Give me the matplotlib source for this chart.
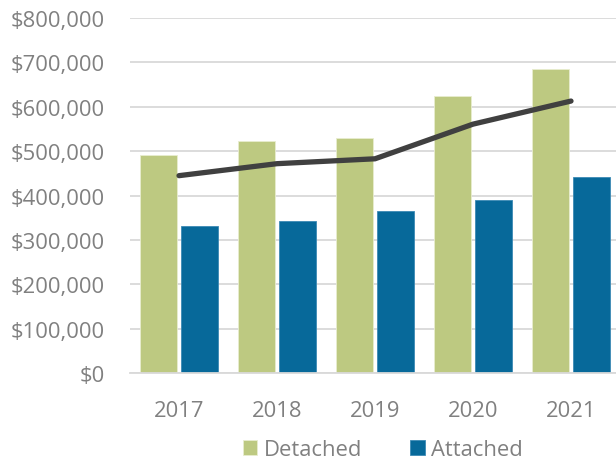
import matplotlib
matplotlib.use("Agg")
import matplotlib.pyplot as plt
import numpy as np
from matplotlib.ticker import FuncFormatter

years = ["2017", "2018", "2019", "2020", "2021"]
detached = [492000, 523000, 529000, 624000, 685000]
attached = [331000, 343000, 365000, 390000, 441000]
overall = [445000, 472000, 483000, 561000, 613000]

plt.rcParams['font.family'] = ['Open Sans', 'DejaVu Sans']
W, H = 616, 460
fig = plt.figure(figsize=(W/100, H/100), dpi=100)
left, bottom = 130/W, 1 - 374.3/H
ax = fig.add_axes([left, bottom, 490/W, (374.3-19)/H])

x = np.arange(len(years))
bw = 0.378
off = 0.21
green = "#BDC981"
blue = "#07699A"
b1 = ax.bar(x - off, detached, bw, color=green, edgecolor="#E8EDCF", linewidth=0.6, label="Detached", zorder=2)
b2 = ax.bar(x + off, attached, bw, color=blue, edgecolor="#3C8AB5", linewidth=0.6, label="Attached", zorder=2)
ax.plot(x, overall, color="#404040", linewidth=3.8, solid_capstyle="round", zorder=3)

ax.set_xlim(-0.5, 4.5)
ax.set_ylim(0, 800000)
ax.set_yticks(np.arange(0, 800001, 100000))
ax.yaxis.set_major_formatter(FuncFormatter(lambda v, p: "${:,.0f}".format(v)))
ax.set_xticks(x)
ax.set_xticklabels(years)
ax.grid(axis="y", color="#D9D9D9", linewidth=1.3, zorder=0)
ax.set_axisbelow(True)
for s in ["top", "right", "left"]:
    ax.spines[s].set_visible(False)
ax.spines["bottom"].set_color("#D9D9D9")
ax.spines["bottom"].set_linewidth(1.3)
ax.tick_params(axis="both", length=0, labelsize=15.8, labelcolor="#808080")
ax.tick_params(axis="y", pad=18)
ax.tick_params(axis="x", pad=19)

fig.legend(handles=[b1, b2], labels=["Detached", "Attached"], loc="center",
           bbox_to_anchor=(383/W, 1 - 451/H), ncol=2, frameon=False,
           fontsize=15.8, labelcolor="#808080", handlelength=0.65, handleheight=0.65,
           handletextpad=0.3, columnspacing=2.2)

fig.savefig("out.png", dpi=100)
